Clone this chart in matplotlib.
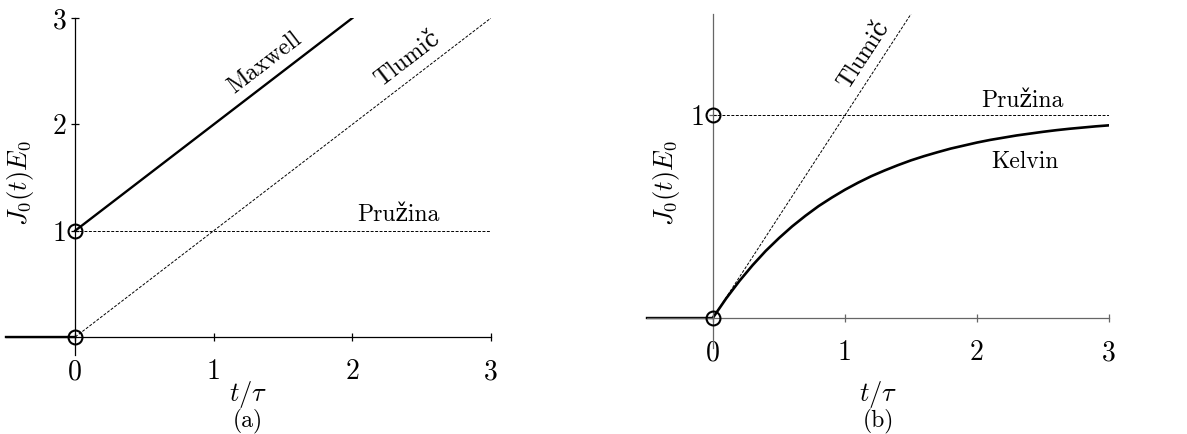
import numpy as np
import matplotlib
matplotlib.use("Agg")
import matplotlib.pyplot as plt

plt.rcParams['font.family'] = ['cmr10', 'DejaVu Serif']
plt.rcParams['mathtext.fontset'] = 'cm'
plt.rcParams['axes.unicode_minus'] = False
plt.rcParams['axes.formatter.use_mathtext'] = True

# step before loading
t_pre = [-0.5, 0.0]
j_pre = [0.0, 0.0]

# (a) Maxwell model
t_maxwell = [0.0, 2.0]
j_maxwell = [1.0, 3.0]
t_damper_a = [0.0, 3.0]
j_damper_a = [0.0, 3.0]
t_spring = [0.0, 3.0]
j_spring = [1.0, 1.0]

# (b) Kelvin model
t_kelvin = np.linspace(0, 3, 31)
j_kelvin = [0.000, 0.095, 0.181, 0.259, 0.330, 0.393, 0.451, 0.503, 0.551, 0.593,
            0.632, 0.667, 0.699, 0.727, 0.753, 0.777, 0.798, 0.817, 0.835, 0.850,
            0.865, 0.878, 0.889, 0.900, 0.909, 0.918, 0.926, 0.933, 0.939, 0.945,
            0.950]
t_damper_b = [0.0, 1.5]
j_damper_b = [0.0, 1.5]

x_ticks = [0, 1, 2, 3]
x_labels = ['0', '1', '2', '3']

W, H = 1187, 434
fig = plt.figure(figsize=(W / 100, H / 100), dpi=100)


def px_axes(x0, x1, ytop, ybot):
    return fig.add_axes([x0 / W, 1 - ybot / H, (x1 - x0) / W, (ybot - ytop) / H])


def style(ax, spine_color):
    for s in ['top', 'right']:
        ax.spines[s].set_visible(False)
    ax.spines['left'].set_position(('data', 0))
    ax.spines['bottom'].set_position(('data', 0))
    for s in ['left', 'bottom']:
        ax.spines[s].set_color(spine_color)
        ax.spines[s].set_linewidth(0.9)
    ax.tick_params(direction='inout', length=6, width=0.9, colors='black',
                   labelsize=20)
    ax.tick_params(axis='x', pad=13, color=spine_color)
    ax.tick_params(axis='y', pad=3, color=spine_color)
    ax.set_xticks(x_ticks)
    ax.set_xticklabels(x_labels)
    ax.patch.set_visible(False)


dash = dict(color='black', lw=0.7, ls=(0, (3, 1.6)))
circ = dict(marker='o', ms=10, mfc='none', mec='black', mew=1.5, ls='none',
            clip_on=False, zorder=5)

# ---- (a)
ax = px_axes(6, 491, 18, 355)
ax.set_xlim(-0.5, 3)
ax.set_ylim(-0.17, 3)
style(ax, 'black')
ax.set_yticks([1, 2, 3])
ax.set_yticklabels(['1', '2', '3'])
ax.plot(t_pre, j_pre, color='black', lw=1.7, clip_on=False)
ax.plot(t_maxwell, j_maxwell, color='black', lw=1.7)
ax.plot(t_damper_a, j_damper_a, **dash)
ax.plot(t_spring, j_spring, **dash)
ax.plot([0, 0], [0, 1], **dash)
ax.plot([0, 0], [0, 1], **circ)
ax.text(1.37, 2.58, 'Maxwell', fontsize=17, rotation=45, rotation_mode='anchor',
        transform_rotates_text=True, ha='center', va='center')
ax.text(2.40, 2.61, 'Tlumič', fontsize=17, rotation=45, rotation_mode='anchor',
        transform_rotates_text=True, ha='center', va='center')
ax.text(2.33, 1.15, 'Pružina', fontsize=17, ha='center', va='center')

# ---- (b)
bx = px_axes(647, 1109, 14, 348)
bx.set_xlim(-0.5, 3)
bx.set_ylim(-0.15, 1.5)
style(bx, '0.4')
bx.set_yticks([1])
bx.set_yticklabels(['1'])
bx.plot(t_pre, j_pre, color='black', lw=1.7, clip_on=False)
bx.plot(t_kelvin, j_kelvin, color='black', lw=1.9)
bx.plot(t_damper_b, j_damper_b, **dash)
bx.plot(t_spring, j_spring, **dash)
bx.plot([0, 0], [0, 1], **dash)
bx.plot([0, 0], [0, 1], **circ)
bx.text(1.14, 1.30, 'Tlumič', fontsize=17, rotation=45, rotation_mode='anchor',
        transform_rotates_text=True, ha='center', va='center')
bx.text(2.34, 1.07, 'Pružina', fontsize=17, ha='center', va='center')
bx.text(2.36, 0.77, 'Kelvin', fontsize=17, ha='center', va='center')

# axis titles and panel captions
for xl in [20, 667]:
    fig.text(xl / W, 1 - 183 / H, r'$J_0(t)E_0$', fontsize=19, rotation=90,
             ha='center', va='center')
for xc, cap in [(248, '(a)'), (878, '(b)')]:
    fig.text(xc / W, 1 - 394 / H, r'$t/\tau$', fontsize=19, ha='center', va='center')
    fig.text(xc / W, 1 - 421 / H, cap, fontsize=17, ha='center', va='center')

fig.savefig('out.png', dpi=100)
